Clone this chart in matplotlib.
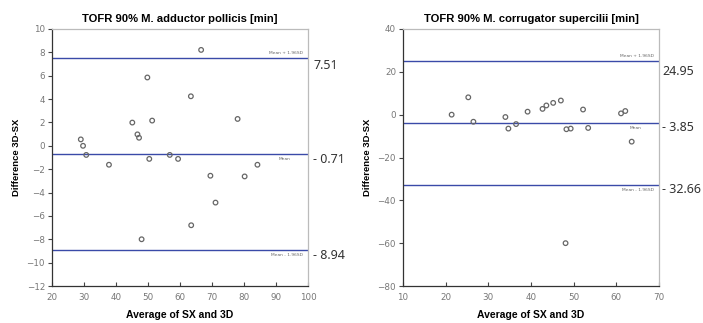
import matplotlib
matplotlib.use("Agg")
import matplotlib.pyplot as plt

# Left panel: M. adductor pollicis
ap_x = [29.0, 29.7, 30.7, 37.8, 45.1, 46.7, 47.2, 48.0, 49.8, 50.4, 51.3, 56.8,
        59.4, 63.4, 63.5, 66.6, 69.5, 71.1, 78.0, 80.2, 84.2]
ap_y = [0.55, 0.0, -0.78, -1.62, 1.99, 0.98, 0.69, -8.0, 5.85, -1.12, 2.16, -0.78,
        -1.12, 4.24, -6.8, 8.21, -2.56, -4.86, 2.3, -2.62, -1.62]
ap_mean, ap_upper, ap_lower = -0.71, 7.51, -8.94

# Right panel: M. corrugator supercilii
cs_x = [21.4, 25.3, 26.5, 34.0, 34.7, 36.5, 39.2, 42.7, 43.6, 45.2, 47.0, 48.1,
        48.3, 49.3, 52.2, 53.4, 61.1, 62.1, 63.6]
cs_y = [0.0, 8.1, -3.3, -1.1, -6.5, -4.4, 1.4, 2.7, 4.3, 5.5, 6.6, -60.0,
        -6.8, -6.5, 2.4, -6.2, 0.6, 1.7, -12.6]
cs_mean, cs_upper, cs_lower = -3.85, 24.95, -32.66

W, H = 703, 323
fig = plt.figure(figsize=(W / 100, H / 100), dpi=100)
fig.patch.set_facecolor("white")

line_color = "#3a4aa8"
tick_color = "#777777"


def panel(rect, xs, ys, mean, upper, lower, xlim, ylim, xticks, yticks, title,
          right_labels, offsets, xpad):
    ax = fig.add_axes(rect)
    ax.scatter(xs, ys, s=11, facecolors="none", edgecolors="#666666",
               linewidths=0.9, zorder=3)
    for v in (upper, mean, lower):
        ax.axhline(v, color=line_color, lw=1.0, zorder=2)
    ax.set_xlim(*xlim)
    ax.set_ylim(*ylim)
    ax.set_xticks(xticks)
    ax.set_yticks(yticks)
    ax.tick_params(axis="y", direction="out", length=3, labelsize=6.3,
                   labelcolor=tick_color, color="#444444", width=0.8, pad=2)
    ax.tick_params(axis="x", direction="in", length=3, labelsize=6.3,
                   labelcolor=tick_color, color="#444444", width=0.8, pad=5)
    for s in ("left", "bottom"):
        ax.spines[s].set_color("#333333")
        ax.spines[s].set_linewidth(0.9)
    for s in ("top", "right"):
        ax.spines[s].set_color("#bbbbbb")
        ax.spines[s].set_linewidth(0.9)
    ax.set_title(title, fontsize=8.1, fontweight="bold", pad=5,
                 family="Liberation Sans")
    ax.set_xlabel("Average of SX and 3D", fontsize=7.5, fontweight="bold",
                  family="Liberation Sans", labelpad=6)
    ax.set_ylabel("Difference 3D-SX", fontsize=6.8, fontweight="bold",
                  family="Liberation Sans", labelpad=4)
    # small legend texts on the lines
    x_r = xlim[1] - (xlim[1] - xlim[0]) * 0.02
    dy = (ylim[1] - ylim[0]) * 0.012
    ax.text(x_r, upper + dy, "Mean + 1.96SD", fontsize=3.2, color="#666666",
            ha="right", va="bottom")
    ax.text(x_r - (xlim[1] - xlim[0]) * 0.05, mean - dy, "Mean", fontsize=3.2,
            color="#666666", ha="right", va="top")
    ax.text(x_r, lower - dy, "Mean - 1.96SD", fontsize=3.2, color="#666666",
            ha="right", va="top")
    # right-side value labels
    for v, lab, off in zip((upper, mean, lower), right_labels, offsets):
        ax.annotate(lab, xy=(1.0, v), xycoords=("axes fraction", "data"),
                    xytext=(xpad, -off), textcoords="offset pixels",
                    fontsize=9, color="#333333", ha="left", va="center",
                    family="Noto Sans", annotation_clip=False)
    return ax


panel([52 / W, 1 - 286 / H, 256 / W, 257 / H], ap_x, ap_y, ap_mean, ap_upper,
      ap_lower, (20, 100), (-12, 10), list(range(20, 101, 10)),
      list(range(-12, 11, 2)), "TOFR 90% M. adductor pollicis [min]",
      ["7.51", "- 0.71", "- 8.94"], (7, 5, 5), 5)

panel([403 / W, 1 - 286 / H, 256 / W, 257 / H], cs_x, cs_y, cs_mean, cs_upper,
      cs_lower, (10, 70), (-80, 40), list(range(10, 71, 10)),
      list(range(-80, 41, 20)), "TOFR 90% M. corrugator supercilii [min]",
      ["24.95", "- 3.85", "- 32.66"], (10, 5, 5), 3)

fig.savefig("out.png", dpi=100)
